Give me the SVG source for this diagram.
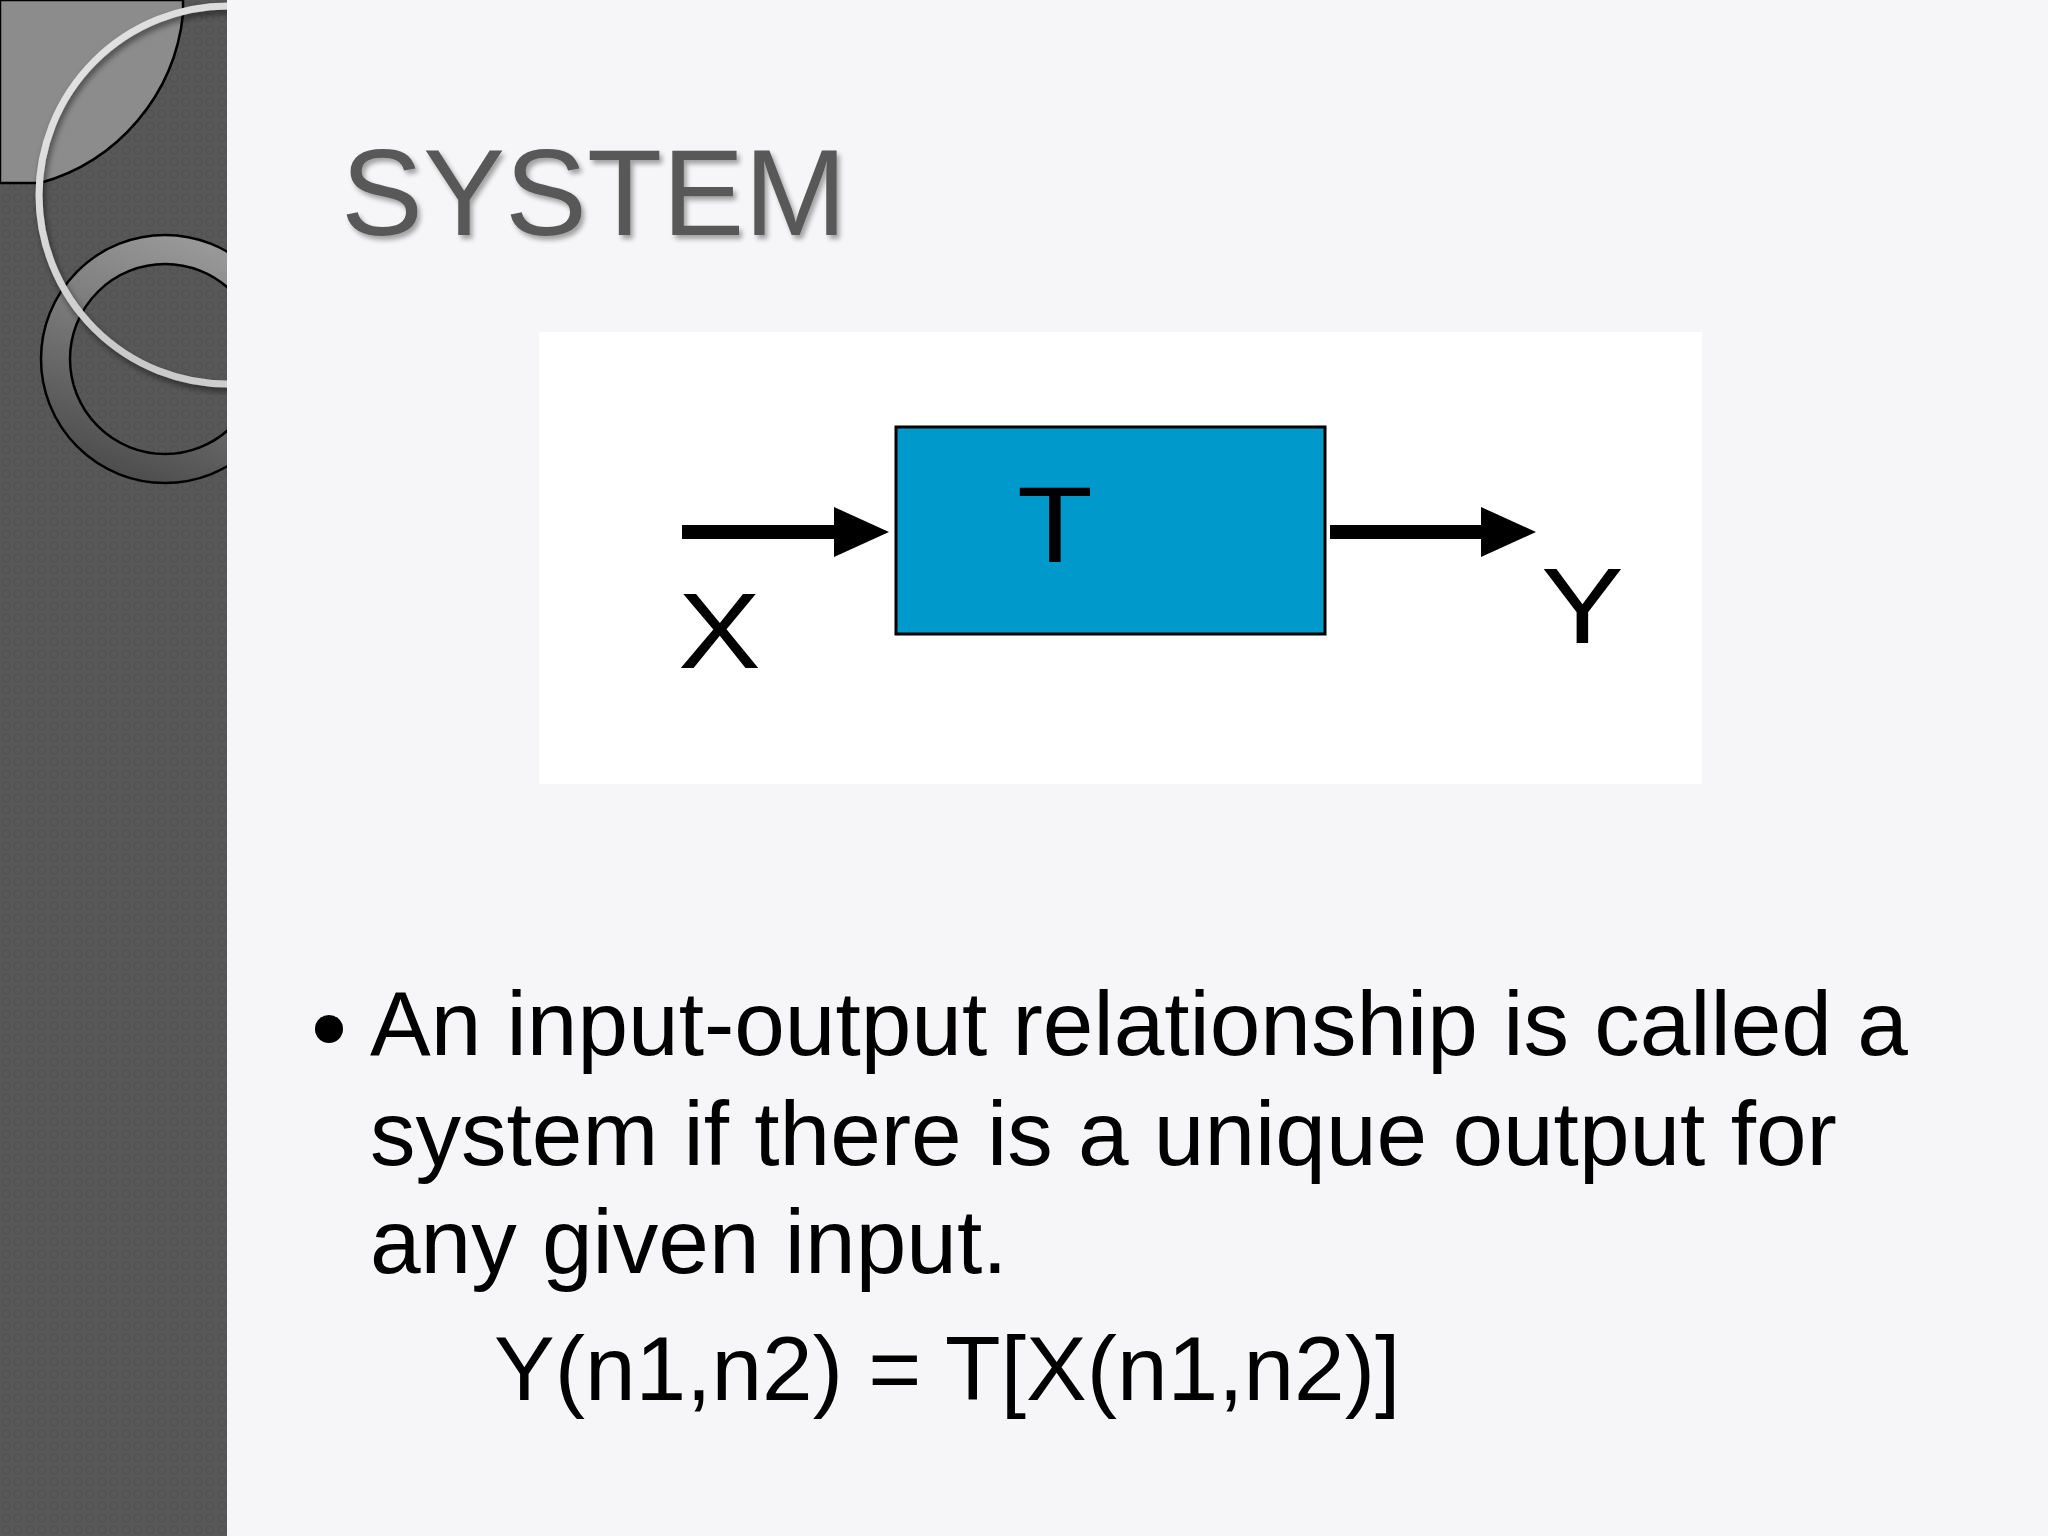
<svg xmlns="http://www.w3.org/2000/svg" width="2048" height="1536" viewBox="0 0 2048 1536">
  <style>
    .body { font-family: "Liberation Sans", Arial, sans-serif; font-size: 91px; fill: #000000; }
    .diag { font-family: "Liberation Sans", Arial, sans-serif; font-size: 108px; fill: #000000; }
    .title { font-family: "Liberation Sans", Arial, sans-serif; font-size: 123px; fill: #595959; }
    .conn { stroke: #000000; stroke-width: 14; fill: none; marker-end: url(#head); }
    .outline { stroke: #000000; stroke-width: 2.5; }
  </style>
  <defs>
    <marker id="head" viewBox="0 0 55 50" refX="6" refY="25" markerWidth="55" markerHeight="50" markerUnits="userSpaceOnUse" orient="auto">
      <path d="M0,0 L55,25 L0,50 Z" fill="#000000"/>
    </marker>
    <pattern id="texture" width="12" height="12" patternUnits="userSpaceOnUse">
      <rect width="12" height="12" fill="#585858"/>
      <circle cx="6" cy="6" r="4" fill="none" stroke="#505050" stroke-width="1.2"/>
    </pattern>
    <linearGradient id="ringGrad" x1="0.7" y1="0" x2="0.3" y2="1">
      <stop offset="0" stop-color="#9c9c9c"/>
      <stop offset="0.45" stop-color="#7a7a7a"/>
      <stop offset="1" stop-color="#4a4a4a"/>
    </linearGradient>
    <linearGradient id="arcGrad" x1="0" y1="0" x2="1" y2="1">
      <stop offset="0" stop-color="#e8e8e8"/>
      <stop offset="0.6" stop-color="#c8c8c8"/>
      <stop offset="1" stop-color="#d8d8d8"/>
    </linearGradient>
    <clipPath id="sideClip">
      <rect x="0" y="0" width="227" height="1536"/>
    </clipPath>
    <filter id="shadow" x="-10%" y="-10%" width="130%" height="140%">
      <feGaussianBlur in="SourceAlpha" stdDeviation="2.5"/>
      <feOffset dx="3" dy="4" result="b"/>
      <feComponentTransfer><feFuncA type="linear" slope="0.35"/></feComponentTransfer>
      <feMerge><feMergeNode/><feMergeNode in="SourceGraphic"/></feMerge>
    </filter>
    <filter id="ringShadow" x="-20%" y="-20%" width="140%" height="140%">
      <feGaussianBlur in="SourceAlpha" stdDeviation="3"/>
      <feOffset dx="2" dy="4"/>
      <feComponentTransfer><feFuncA type="linear" slope="0.5"/></feComponentTransfer>
      <feMerge><feMergeNode/><feMergeNode in="SourceGraphic"/></feMerge>
    </filter>
  </defs>

  <!-- slide background -->
  <rect id="background" x="0" y="0" width="2048" height="1536" fill="#f6f6f8"/>

  <!-- decorative sidebar -->
  <g id="sidebar" clip-path="url(#sideClip)">
    <rect x="0" y="0" width="227" height="1536" fill="url(#texture)"/>
    <path d="M0,0 H183 V14 A196,196 0 0 1 40,183 H0 Z" fill="#8c8c8c" class="outline"/>
    <circle cx="165" cy="359" r="124" fill="url(#ringGrad)" class="outline"/>
    <circle cx="165" cy="359" r="95" fill="url(#texture)" class="outline"/>
    <circle cx="228" cy="195" r="189" fill="none" stroke="url(#arcGrad)" stroke-width="7" filter="url(#ringShadow)"/>
  </g>

  <!-- title -->
  <g id="title">
    <text x="341" y="235" class="title" filter="url(#shadow)">SYSTEM</text>
  </g>

  <!-- diagram panel -->
  <g id="diagram-panel">
    <rect x="539" y="332" width="1163" height="452" fill="#ffffff"/>
  </g>

  <g id="node-T">
    <rect x="896" y="427" width="429" height="207" fill="#0099cc" stroke="#000000" stroke-width="3"/>
    <text class="diag" transform="translate(1017,562) scale(1.15,1)">T</text>
  </g>

  <g id="label-X">
    <text class="diag" transform="translate(678,668) scale(1.15,1)">X</text>
  </g>

  <g id="label-Y">
    <text class="diag" transform="translate(1541,643) scale(1.15,1)">Y</text>
  </g>

  <g id="connectors">
    <path class="conn" d="M682,532 H840"/>
    <path class="conn" d="M1330,532 H1487"/>
  </g>

  <!-- body text -->
  <g id="bullet-text">
    <circle cx="329" cy="1029" r="14" fill="#000000"/>
    <text class="body" x="370" y="1055">An input-output relationship is called a</text>
    <text class="body" x="370" y="1165">system if there is a unique output for</text>
    <text class="body" x="370" y="1273">any given input.</text>
    <text class="body" x="494" y="1400">Y(n1,n2) = T[X(n1,n2)]</text>
  </g>
</svg>
